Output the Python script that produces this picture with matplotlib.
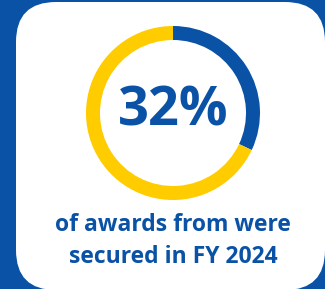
import matplotlib.pyplot as plt
from matplotlib.patches import FancyBboxPatch

# chart values
shares = [32, 68]
share_labels = ['FY 2024', 'other']
headline = '32%'
caption = 'of awards from were\nsecured in FY 2024'

blue = '#0A52A6'
yellow = '#FFCC00'

W, H = 325, 289
fig = plt.figure(figsize=(W / 100, H / 100), dpi=100)
fig.patch.set_facecolor(blue)

# background axes in pixel coordinates
bg = fig.add_axes([0, 0, 1, 1])
bg.set_xlim(0, W)
bg.set_ylim(H, 0)
bg.axis('off')

# white card: x 16..325, y 2..290, corner radius 40
rad = 40
card = FancyBboxPatch((16 + rad, 2 + rad), 309 - 2 * rad, 288 - 2 * rad,
                      boxstyle=f'round,pad={rad}', facecolor='white', edgecolor='none')
bg.add_patch(card)

# donut
cx, cy, r = 173, 113, 87
donut = fig.add_axes([(cx - r) / W, (H - cy - r) / H, 2 * r / W, 2 * r / H])
donut.pie(shares, colors=[blue, yellow], startangle=90, counterclock=False,
          radius=1, wedgeprops=dict(width=14 / 87, edgecolor='none'))
donut.set_xlim(-1, 1)
donut.set_ylim(-1, 1)
donut.axis('off')

bg.text(cx, 112, headline, ha='center', va='center', fontsize=39,
        fontweight='bold', color=blue, family='Open Sans')
bg.text(173, 241, caption, ha='center', va='center', fontsize=16.5,
        fontweight='bold', color=blue, family='Open Sans', linespacing=1.4)

fig.savefig('out.png', dpi=100, facecolor=blue)
